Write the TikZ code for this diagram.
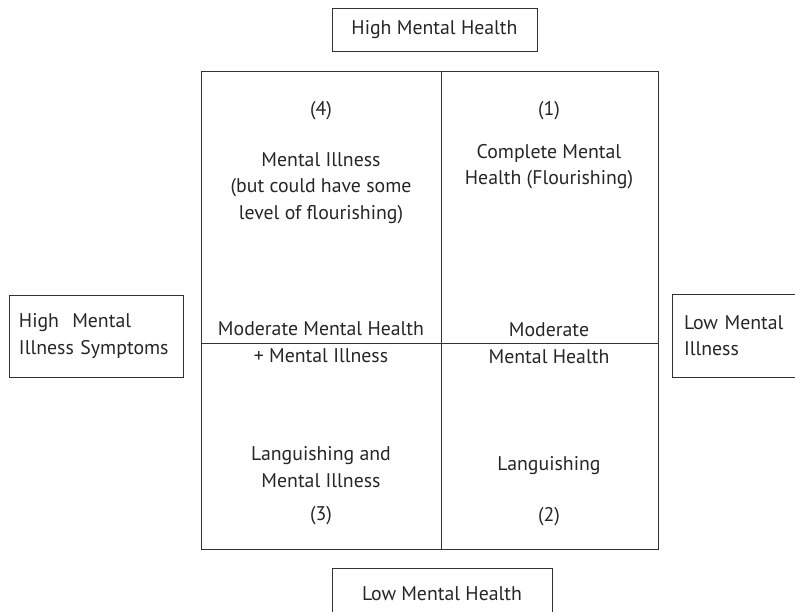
\documentclass[tikz,border=0pt]{standalone}
\usepackage{fontspec}
\setmainfont{PT Sans}
\begin{document}
\begin{tikzpicture}[x=1pt, y=-1pt,
    every node/.style={font=\fontsize{19.8}{26.5}\selectfont, text=black!85},
    axisbox/.style={draw=black!80, line width=0.9pt, inner sep=0pt},
    celltext/.style={align=center, inner sep=0pt}]
    \useasboundingbox (0,0) rectangle (795,612);
    \clip (0,0) rectangle (795,612);
    % the four quadrants
    \draw[black!80, line width=0.9pt] (201,71) rectangle (658,549);
    \draw[black!80, line width=0.9pt] (441,71) -- (441,549);
    \draw[black!80, line width=0.9pt] (201,343) -- (658,343);
    % axis labels
    \node[axisbox, minimum width=205, minimum height=43] (hmh) at (434.5,29.5){High Mental Health};
    \node[axisbox, minimum width=220, minimum height=52] (lmh) at (442,594){Low Mental Health};
    \node[axisbox, minimum width=174, minimum height=82, align=left, text width=154] (hmis) at (96,336){High\ \ Mental\\Illness Symptoms};
    \node[axisbox, minimum width=208, minimum height=83, align=left, text width=184] (lmi) at (776,335.5){Low Mental\\Illness};
    % upper left (4)
    \node[celltext] (n4) at (321,111){(4)};
    \node[celltext] (q4) at (321,188){Mental Illness\\(but could have some\\level of flourishing)};
    % upper right (1)
    \node[celltext] (n1) at (549,111){(1)};
    \node[celltext] (q1) at (549,166.5){Complete Mental\\Health (Flourishing)};
    % middle
    \node[celltext] (mmi) at (321,342){Moderate Mental Health\\+ Mental Illness};
    \node[celltext] (mmh) at (549,343){Moderate\\Mental Health};
    % lower left (3)
    \node[celltext] (q3) at (321,467){Languishing and\\Mental Illness};
    \node[celltext] (n3) at (321,516){(3)};
    % lower right (2)
    \node[celltext] (q2) at (549,466){Languishing};
    \node[celltext] (n2) at (549,517){(2)};
  \end{tikzpicture}
\end{document}
